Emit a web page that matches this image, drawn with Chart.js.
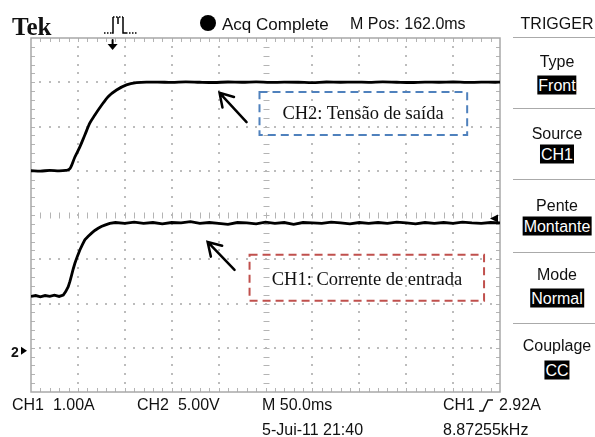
<!DOCTYPE html>
<html><head><meta charset="utf-8">
<script src="https://cdn.jsdelivr.net/npm/chart.js@4"></script>
<style>
body{margin:0;background:#fff;}
#wrap{position:relative;width:595px;height:437px;overflow:hidden;background:#fff;}
canvas{position:absolute;left:0;top:0;}
.t{position:absolute;font-family:"Liberation Sans",Arial,sans-serif;font-size:16px;color:#111;white-space:pre;line-height:1;transform:translateY(-50%);}
.c{transform:translate(-50%,-50%);}
.inv{background:#000;color:#fff;padding:2px 1px 1px 1px;}
.ann{position:absolute;font-family:"Liberation Serif","Times New Roman",serif;font-size:18.5px;color:#111;white-space:nowrap;line-height:1;transform:translate(-50%,-50%);}
.sep{position:absolute;left:513px;width:82px;height:0;border-top:1.5px solid #aaa;}
</style></head>
<body>
<div id="wrap">
<canvas id="c" width="595" height="437"></canvas>
<div class="t" style="left:12px;top:26px;font-family:'Liberation Serif',serif;font-weight:bold;font-size:25px;">Tek</div>
<div class="t" style="left:222px;top:24px;font-size:17px;">Acq Complete</div>
<div class="t" style="left:350px;top:24px;">M Pos: 162.0ms</div>
<div class="t c" style="left:557px;top:24px;">TRIGGER</div>
<div class="sep" style="top:37px;"></div>
<div class="t c" style="left:557px;top:62px;">Type</div>
<div class="t c inv" style="left:557px;top:85px;">Front</div>
<div class="sep" style="top:108px;"></div>
<div class="t c" style="left:557px;top:134px;">Source</div>
<div class="t c inv" style="left:557px;top:154px;">CH1</div>
<div class="sep" style="top:179px;"></div>
<div class="t c" style="left:557px;top:206px;">Pente</div>
<div class="t c inv" style="left:557px;top:226px;">Montante</div>
<div class="sep" style="top:252px;"></div>
<div class="t c" style="left:557px;top:275px;">Mode</div>
<div class="t c inv" style="left:557px;top:298px;">Normal</div>
<div class="sep" style="top:323px;"></div>
<div class="t c" style="left:557px;top:346px;">Couplage</div>
<div class="t c inv" style="left:557px;top:370px;">CC</div>
<div class="t" style="left:12px;top:405px;">CH1  1.00A</div>
<div class="t" style="left:137px;top:405px;">CH2  5.00V</div>
<div class="t" style="left:262px;top:405px;">M 50.0ms</div>
<div class="t" style="left:443px;top:405px;">CH1</div>
<svg style="position:absolute;left:478px;top:397px;" width="16" height="16"><polyline points="1,14 5,14 10,3 15,3" fill="none" stroke="#111" stroke-width="1.5"/></svg>
<div class="t" style="left:499px;top:405px;">2.92A</div>
<div class="t" style="left:262px;top:430px;">5-Jui-11 21:40</div>
<div class="t" style="left:443px;top:430px;">8.87255kHz</div>
<div class="t" style="left:11px;top:352px;font-size:14px;font-weight:bold;">2</div>
<div class="ann" style="left:363px;top:113px;">CH2: Tensão de saída</div>
<div class="ann" style="left:367px;top:279px;">CH1: Corrente de entrada</div>
</div>
<script>
// ---- data (time in ms from left screen edge, 50 ms/div) ----
const ch2Time  = [0, 10, 20, 30, 37, 41.5, 46.8, 52.1, 57.4, 62.8, 68.1, 75.2, 82.2, 91.2, 101.8, 112.4, 123.1,
                  135, 150, 165, 180, 195, 210, 225, 240, 255, 270, 285, 300, 315, 330, 345, 360, 375, 390, 405, 420, 435, 450, 465, 480, 495, 500];
const ch2Volts = [20.0, 19.96, 20.04, 19.98, 20.03, 20.23, 21.55, 22.7, 24.04, 25.4, 26.3, 27.4, 28.37, 29.12, 29.7, 29.95, 30.02,
                  30.02, 29.98, 30.05, 30.0, 29.97, 30.03, 30.0, 30.04, 29.98, 30.01, 30.0, 29.96, 30.03, 30.0, 30.02, 29.99, 30.04, 30.0, 29.97, 30.02, 30.0, 30.03, 29.98, 30.01, 30.0, 30.02];
const ch1Time  = [0, 5, 10, 15, 20, 25, 30, 34.4, 37, 39.7, 41.5, 43.3, 45, 46.8, 49.5, 52.1, 54.8, 57.4, 61, 64.6, 68, 71.6, 75, 78.7, 84.0,
                  90, 100, 110, 120, 130, 140, 150, 160, 170, 180, 190, 200, 210, 220, 230, 240, 250, 260, 270, 280, 290,
                  300, 310, 320, 330, 340, 350, 360, 370, 380, 390, 400, 410, 420, 430, 440, 450, 460, 470, 480, 490, 500];
const ch1Amps  = [1.16, 1.18, 1.15, 1.18, 1.16, 1.19, 1.16, 1.19, 1.27, 1.38, 1.50, 1.64, 1.78, 1.91, 2.07, 2.21, 2.33, 2.44, 2.52, 2.59, 2.65, 2.70, 2.74, 2.77, 2.81,
                  2.83, 2.81, 2.84, 2.81, 2.83, 2.80, 2.83, 2.82, 2.85, 2.81, 2.83, 2.81, 2.79, 2.83, 2.82, 2.80, 2.84, 2.81, 2.83, 2.79, 2.83,
                  2.82, 2.81, 2.84, 2.82, 2.80, 2.83, 2.81, 2.83, 2.81, 2.84, 2.82, 2.80, 2.83, 2.81, 2.83, 2.81, 2.84, 2.82, 2.81, 2.83, 2.82];
const ch2VoltsPerDiv = 5;
const ch1AmpsPerDiv = 1;
const groundDiv = -3;          // both channel ground markers
const trigLevelAmps = 2.92;
const trigTimeMs = 87;

const toDiv = (v, perDiv) => v / perDiv + groundDiv;
const ch2Data = ch2Time.map((t, i) => ({x: t, y: toDiv(ch2Volts[i], ch2VoltsPerDiv)}));
const ch1Data = ch1Time.map((t, i) => ({x: t, y: toDiv(ch1Amps[i], ch1AmpsPerDiv)}));

// annotation anchors in (ms, div)
const blueBox = {x0: 243.6, x1: 465, y0: 2.78, y1: 1.81};
const redBox  = {x0: 233, x1: 483, y0: -0.90, y1: -1.94};
const arrow2 = {tx: 201, ty: 2.76, sx: 229.8, sy: 2.10};
const arrow1 = {tx: 188.3, ty: -0.61, sx: 217, sy: -1.24};

const graticule = {
  id: 'graticule',
  beforeDatasetsDraw(chart) {
    const {ctx, chartArea: a, scales: {x, y}} = chart;
    const X = v => x.getPixelForValue(v), Y = v => y.getPixelForValue(v);
    ctx.save();
    ctx.fillStyle = '#bcbcbc';
    for (let i = 1; i < 10; i++) {
      if (i === 5) continue;
      const px = Math.round(X(i * 50));
      for (let k = 1; k < 40; k++) ctx.fillRect(px - 1, Math.round(Y(-4 + k * 0.2)) - 1, 2, 2);
    }
    for (let j = -3; j <= 3; j++) {
      if (j === 0) continue;
      const py = Math.round(Y(j));
      for (let k = 1; k < 50; k++) ctx.fillRect(Math.round(X(k * 10)) - 1, py - 1, 2, 2);
    }
    ctx.strokeStyle = '#b4b4b4'; ctx.lineWidth = 1;
    const cx = Math.round(X(250)) + 0.5, cy = Math.round(Y(0)) + 0.5;
    ctx.beginPath();
    for (let k = 1; k < 50; k++) { const px = Math.round(X(k * 10)) + 0.5; ctx.moveTo(px, cy - 3); ctx.lineTo(px, cy + 3); }
    for (let k = 1; k < 40; k++) { const py = Math.round(Y(-4 + k * 0.2)) + 0.5; ctx.moveTo(cx - 3, py); ctx.lineTo(cx + 3, py); }
    for (let k = 1; k < 50; k++) {
      const px = Math.round(X(k * 10)) + 0.5;
      ctx.moveTo(px, a.top); ctx.lineTo(px, a.top + 4);
      ctx.moveTo(px, a.bottom); ctx.lineTo(px, a.bottom - 4);
    }
    for (let k = 1; k < 40; k++) {
      const py = Math.round(Y(-4 + k * 0.2)) + 0.5;
      ctx.moveTo(a.left, py); ctx.lineTo(a.left + 4, py);
      ctx.moveTo(a.right, py); ctx.lineTo(a.right - 4, py);
    }
    ctx.stroke();
    ctx.strokeStyle = '#a8a8a8'; ctx.lineWidth = 1.5;
    ctx.strokeRect(a.left, a.top, a.right - a.left, a.bottom - a.top);
    ctx.restore();
  },
  afterDatasetsDraw(chart) {
    const {ctx, chartArea: a, scales: {x, y}} = chart;
    const X = v => x.getPixelForValue(v), Y = v => y.getPixelForValue(v);
    ctx.save();
    ctx.lineWidth = 2; ctx.setLineDash([8, 5]);
    ctx.strokeStyle = '#4f81bd';
    ctx.strokeRect(X(blueBox.x0), Y(blueBox.y0), X(blueBox.x1) - X(blueBox.x0), Y(blueBox.y1) - Y(blueBox.y0));
    ctx.strokeStyle = '#c0504d';
    ctx.strokeRect(X(redBox.x0), Y(redBox.y0), X(redBox.x1) - X(redBox.x0), Y(redBox.y1) - Y(redBox.y0));
    ctx.setLineDash([]);
    ctx.strokeStyle = '#000'; ctx.lineWidth = 2.5; ctx.lineCap = 'round';
    [arrow2, arrow1].forEach(ar => {
      const tx = X(ar.tx), ty = Y(ar.ty), sx = X(ar.sx), sy = Y(ar.sy);
      const ang = Math.atan2(sy - ty, sx - tx), L = 15, sp = 0.55;
      ctx.beginPath();
      ctx.moveTo(sx, sy); ctx.lineTo(tx, ty);
      ctx.moveTo(tx + L * Math.cos(ang - sp), ty + L * Math.sin(ang - sp)); ctx.lineTo(tx, ty);
      ctx.lineTo(tx + L * Math.cos(ang + sp), ty + L * Math.sin(ang + sp));
      ctx.stroke();
    });
    ctx.fillStyle = '#000';
    const tl = Y(toDiv(trigLevelAmps, ch1AmpsPerDiv));
    ctx.beginPath(); ctx.moveTo(a.right - 10, tl); ctx.lineTo(a.right - 2, tl - 4); ctx.lineTo(a.right - 2, tl + 4); ctx.closePath(); ctx.fill();
    const gy = Y(groundDiv) + 3;
    ctx.beginPath(); ctx.moveTo(27, gy); ctx.lineTo(21, gy - 4); ctx.lineTo(21, gy + 4); ctx.closePath(); ctx.fill();
    const tp = X(trigTimeMs);
    ctx.lineWidth = 2; ctx.beginPath(); ctx.moveTo(tp, 40); ctx.lineTo(tp, 46); ctx.stroke();
    ctx.beginPath(); ctx.moveTo(tp - 5, 44); ctx.lineTo(tp + 5, 44); ctx.lineTo(tp, 50); ctx.closePath(); ctx.fill();
    ctx.lineWidth = 1.5; ctx.lineCap = 'butt';
    ctx.setLineDash([1.5, 1.5]);
    ctx.beginPath(); ctx.moveTo(104, 33); ctx.lineTo(112, 33); ctx.moveTo(126, 33); ctx.lineTo(138, 33); ctx.moveTo(113, 17); ctx.lineTo(123, 17); ctx.stroke();
    ctx.setLineDash([]);
    ctx.beginPath(); ctx.moveTo(112, 33); ctx.lineTo(113, 33); ctx.lineTo(113, 17); ctx.moveTo(118, 17); ctx.lineTo(118, 24);
    ctx.moveTo(123, 17); ctx.lineTo(123, 33); ctx.lineTo(126, 33); ctx.stroke();
    ctx.beginPath(); ctx.arc(208, 23, 8, 0, Math.PI * 2); ctx.fill();
    ctx.restore();
  }
};

new Chart(document.getElementById('c'), {
  type: 'line',
  data: {
    datasets: [
      {label: 'CH2', data: ch2Data, borderColor: '#000', borderWidth: 2.8, pointRadius: 0, cubicInterpolationMode: 'monotone'},
      {label: 'CH1', data: ch1Data, borderColor: '#000', borderWidth: 2.8, pointRadius: 0, tension: 0}
    ]
  },
  options: {
    responsive: false, animation: false, devicePixelRatio: 1,
    layout: {padding: {left: 31, right: 95, top: 38, bottom: 45}},
    scales: {
      x: {type: 'linear', min: 0, max: 500, display: false},
      y: {type: 'linear', min: -4, max: 4, display: false}
    },
    plugins: {legend: {display: false}, tooltip: {enabled: false}}
  },
  plugins: [graticule]
});
</script>
</body></html>
